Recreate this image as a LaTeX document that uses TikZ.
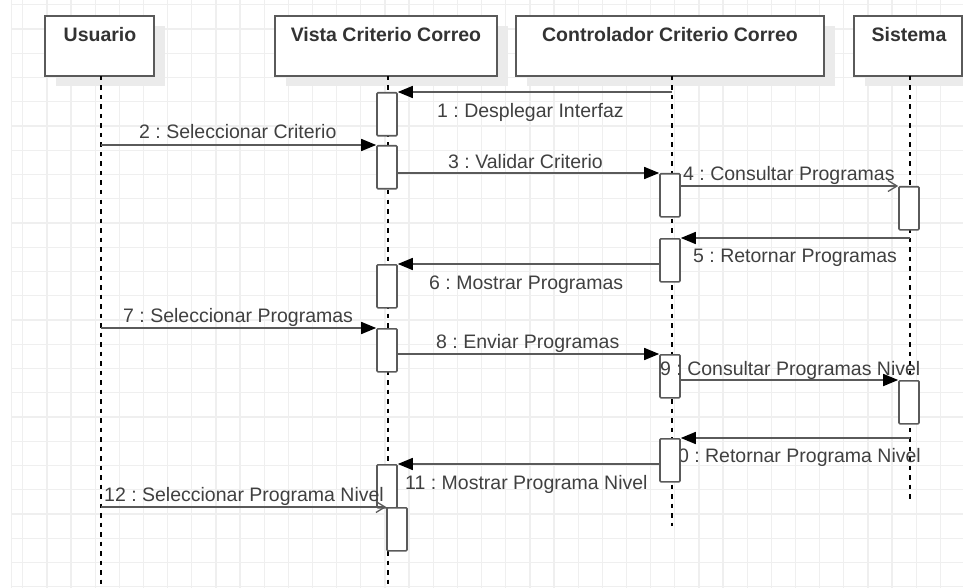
\documentclass[tikz,border=0pt]{standalone}
\usepackage{fontspec}
\setmainfont{Liberation Sans}
\usetikzlibrary{arrows.meta,shadows}
\definecolor{gridc}{HTML}{EFEFEF}
\definecolor{linec}{HTML}{5A5A5A}
\definecolor{textc}{HTML}{404040}
\definecolor{titlec}{HTML}{333333}
\definecolor{shadc}{HTML}{EBEBEB}
\frenchspacing
\begin{document}
\begin{tikzpicture}[x=1pt,y=-1pt,
  gridline/.style={draw=gridc, line width=1.3pt},
  header/.style={rectangle, draw=linec, line width=1.6pt, fill=white, inner sep=0pt,
    minimum height=60pt,
    drop shadow={shadow xshift=11pt, shadow yshift=-10pt, fill=shadc, opacity=1}},
  title/.style={anchor=base, inner sep=0pt, text=titlec,
    font=\bfseries\fontsize{19.5}{22}\selectfont},
  lifeline/.style={draw=black, line width=1.4pt, dash pattern=on 4.5pt off 5pt},
  act/.style={rectangle, anchor=north, draw=linec, line width=1.6pt, fill=white,
    minimum width=20pt, minimum height=43pt, inner sep=0pt, rounded corners=1pt},
  msg/.style={draw=linec, line width=1.6pt},
  sync/.style={msg, -{Triangle[length=15pt,width=12pt,color=black]}},
  openmsg/.style={msg, -{Straight Barb[length=9pt,width=11pt,line width=1.3pt,color=linec]}},
  lab/.style={anchor=base west, inner sep=0pt, text=textc,
    font=\fontsize{19.5}{22}\selectfont}
]
\useasboundingbox (0,0) rectangle (963,588);
% grid
\draw[gridline] (11.7,0) -- (11.7,588);
\foreach \i in {0,...,39} \draw[gridline] ({22.7+24.15*\i},0) -- ({22.7+24.15*\i},588);
\foreach \j in {0,...,24} \draw[gridline] (11.7,{4.7+24.25*\j}) -- (963,{4.7+24.25*\j});

% headers
\node[header, minimum width=109pt] (U) at (99.5,46) {};
\node[header, minimum width=222pt] (V) at (386,46) {};
\node[header, minimum width=308pt] (C) at (670,46) {};
\node[header, minimum width=108pt] (S) at (908,46) {};
\node[title] (Ut) at (100,42) {Usuario};
\node[title] (Vt) at (386,42) {Vista Criterio Correo};
\node[title] (Ct) at (670,42) {Controlador Criterio Correo};
\node[title] (St) at (909,42) {Sistema};

% lifelines
\coordinate (Utop) at (101,76);  \coordinate (Ubot) at (101,588);
\coordinate (Vtop) at (388,76);  \coordinate (Vbot) at (388,588);
\coordinate (Ctop) at (672,76);  \coordinate (Cbot) at (672,526);
\coordinate (Stop) at (910,76);  \coordinate (Sbot) at (910,499);
\draw[lifeline] (Utop) -- (Ubot);
\draw[lifeline] (Vtop) -- (Vbot);
\draw[lifeline] (Ctop) -- (Cbot);
\draw[lifeline] (Stop) -- (Sbot);

% label hidden partly behind activation
\node[lab] (l10) at (667,462) {10 : Retornar Programa Nivel};

% activations
\node[act] (A1) at (387,92) {};
\node[act] (A2) at (387,145) {};
\node[act] (A3) at (387,264) {};
\node[act] (A4) at (387,328) {};
\node[act] (A5) at (387,464) {};
\node[act] (A6) at (397,507) {};
\node[act] (C1) at (670,173) {};
\node[act] (C2) at (670,238) {};
\node[act] (C3) at (670,354) {};
\node[act] (C4) at (670,438) {};
\node[act] (S1) at (909,186) {};
\node[act] (S2) at (909,380) {};

% message sources on lifelines
\coordinate (c1) at (672,92);
\coordinate (u2) at (101,145);
\coordinate (s5) at (910,238);
\coordinate (u7) at (101,328);
\coordinate (s10) at (910,438);
\coordinate (u12) at (101,507);

% messages
\draw[sync] (c1) -- (A1.north east);
\draw[sync] (u2) -- (A2.north west);
\draw[sync] (A2.east |- C1.north) -- (C1.north west);
\draw[openmsg] (C1.east |- S1.north) -- (S1.north west);
\draw[sync] (s5) -- (C2.north east);
\draw[sync] (C2.west |- A3.north) -- (A3.north east);
\draw[sync] (u7) -- (A4.north west);
\draw[sync] (A4.east |- C3.north) -- (C3.north west);
\draw[sync] (C3.east |- S2.north) -- (S2.north west);
\draw[sync] (s10) -- (C4.north east);
\draw[sync] (C4.west |- A5.north) -- (A5.north east);
\draw[openmsg] (u12) -- (A6.north west);

% labels
\node[lab] (l1) at (437,118) {1 : Desplegar Interfaz};
\node[lab] (l2) at (139,139) {2 : Seleccionar Criterio};
\node[lab] (l3) at (448,168) {3 : Validar Criterio};
\node[lab] (l4) at (683,181) {4 : Consultar Programas};
\node[lab] (l5) at (693,262) {5 : Retornar Programas};
\node[lab] (l6) at (429,289) {6 : Mostrar Programas};
\node[lab] (l7) at (123,322) {7 : Seleccionar Programas};
\node[lab] (l8) at (436,348) {8 : Enviar Programas};
\node[lab] (l9) at (660,375) {9 : Consultar Programas Nivel};
\node[lab] (l11) at (405,489) {11 : Mostrar Programa Nivel};
\node[lab] (l12) at (104,501) {12 : Seleccionar Programa Nivel};
\end{tikzpicture}
\end{document}
